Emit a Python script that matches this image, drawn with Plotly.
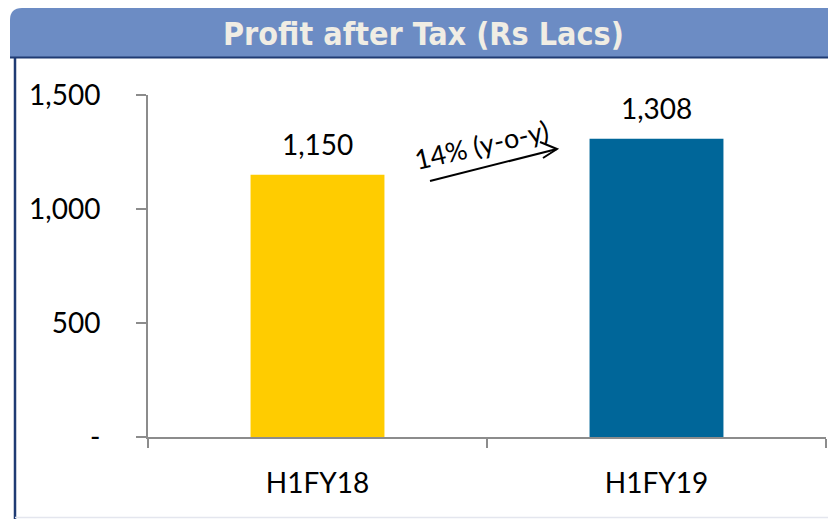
import plotly.graph_objects as go

categories = ["H1FY18", "H1FY19"]
values = [1150, 1308]
value_labels = ["1,150", "1,308"]
bar_colors = ["#FFCC00", "#006699"]
tick_vals = [0, 500, 1000, 1500]
tick_text = ["-", "500", "1,000", "1,500"]
title_text = "Profit after Tax (Rs Lacs)"
growth_text = "14% (y-o-y)"

W, H = 828, 519
L, R, T, B = 148, 2, 95, 82
PW, PH = W - L - R, H - T - B


def px(x):
    return (x - L) / PW


def py(y):
    return (H - B - y) / PH


fig = go.Figure()
fig.add_trace(go.Bar(
    x=categories, y=values, marker=dict(color=bar_colors, line=dict(width=0)),
    width=0.395, cliponaxis=False, hoverinfo="skip",
))

shapes = []
x0, x1, y0, y1, r = px(10), px(828), py(57), py(8), 12
shapes.append(dict(
    type="path", xref="paper", yref="paper",
    path=f"M {x0},{y0} L {x0},{py(8 + r)} Q {x0},{y1} {px(10 + r)},{y1} L {x1},{y1} L {x1},{y0} Z",
    fillcolor="#6C8CC4", line=dict(width=0), layer="below"))
shapes.append(dict(type="line", xref="paper", yref="paper", x0=px(10), x1=px(828),
                   y0=py(57.5), y1=py(57.5), line=dict(color="#1F3B73", width=2)))
shapes.append(dict(type="line", xref="paper", yref="paper", x0=px(15), x1=px(15),
                   y0=py(58), y1=py(519), line=dict(color="#1F3B73", width=2.5)))
shapes.append(dict(type="line", xref="paper", yref="paper", x0=px(15), x1=px(828),
                   y0=py(517.5), y1=py(517.5), line=dict(color="#E4E6EE", width=1.5)))
shapes.append(dict(type="path", xref="paper", yref="paper",
                   path=f"M {px(430)},{py(181)} L {px(557)},{py(149)}",
                   line=dict(color="#000000", width=2)))
shapes.append(dict(type="path", xref="paper", yref="paper",
                   path=f"M {px(540)},{py(142)} L {px(557)},{py(149)} L {px(543)},{py(158)}",
                   line=dict(color="#000000", width=2)))

annotations = [
    dict(text=title_text, xref="paper", yref="paper", x=px(423), y=py(34),
         showarrow=False, xanchor="center", yanchor="middle",
         font=dict(family="DejaVu Sans Condensed", size=32, color="#F0EDE4", weight="bold")),
    dict(text=growth_text, xref="paper", yref="paper", x=px(481), y=py(144),
         showarrow=False, textangle=-13, xanchor="center", yanchor="middle",
         font=dict(family="Lato", size=27, color="#000000")),
]
for c, v, t in zip(categories, values, value_labels):
    annotations.append(dict(text=t, x=c, y=v, xref="x", yref="y", showarrow=False,
                            yanchor="bottom", yshift=12,
                            font=dict(family="Lato", size=28, color="#000000")))

fig.update_layout(
    width=W, height=H,
    margin=dict(l=L, r=R, t=T, b=B),
    paper_bgcolor="#FFFFFF", plot_bgcolor="#FFFFFF",
    showlegend=False,
    shapes=shapes,
    annotations=annotations,
    xaxis=dict(
        type="category", showline=True, linecolor="#8C8C8C", linewidth=2,
        ticks="outside", tickson="boundaries", ticklen=9, tickcolor="#8C8C8C", tickwidth=2,
        tickfont=dict(family="Lato", size=28, color="#000000"),
        showgrid=False, zeroline=False, ticklabelstandoff=20,
    ),
    yaxis=dict(
        range=[0, 1500], tickvals=tick_vals, ticktext=tick_text,
        showline=True, linecolor="#8C8C8C", linewidth=2,
        ticks="outside", ticklen=10, tickcolor="#8C8C8C", tickwidth=2,
        tickfont=dict(family="Lato", size=28, color="#000000"),
        showgrid=False, zeroline=False, ticklabelstandoff=30,
    ),
)

fig.write_html("out.html", config={"displayModeBar": False},
               post_script="document.body.style.margin='0px';")
